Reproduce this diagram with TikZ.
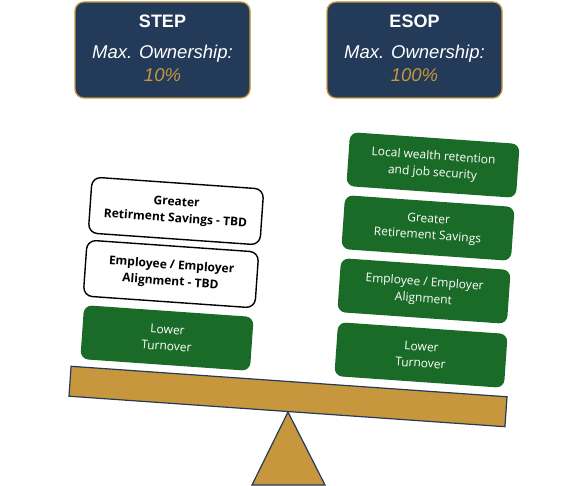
\documentclass[tikz,border=0pt]{standalone}
\usepackage{fontspec}
\setmainfont{Liberation Sans}
\newfontfamily\boxfont{Open Sans}
\definecolor{navy}{RGB}{36,58,89}
\definecolor{gold}{RGB}{198,151,60}
\definecolor{dgreen}{RGB}{26,107,40}
\begin{document}
\begin{tikzpicture}[x=1pt,y=-1pt,
  topbox/.style={draw=gold,line width=1.3pt,fill=navy,rounded corners=9pt,
    minimum width=175pt,minimum height=96pt,inner sep=0pt},
  greenbox/.style={fill=dgreen,rounded corners=8pt,rotate=-4,
    minimum width=170pt,minimum height=54pt,inner sep=0pt,
    text=white,align=center,font=\boxfont\fontsize{12}{16.5}\selectfont},
  whitebox/.style={draw=black,line width=1.4pt,fill=white,rounded corners=9pt,rotate=-4,
    minimum width=172pt,minimum height=56pt,inner sep=0pt,
    text=black,align=center,font=\boxfont\bfseries\fontsize{12}{16.5}\selectfont},
  beamstyle/.style={draw=navy,line width=1.2pt,fill=gold,rotate=-4,
    minimum width=437pt,minimum height=30pt,inner sep=0pt}]
\useasboundingbox (0,0) rectangle (576,486);
% top boxes
\node[topbox] (step) at (162.5,50) {};
\node[topbox] (esop) at (414.5,50) {};
\node[text=white,font=\bfseries\fontsize{18}{20}\selectfont,anchor=base] (steptitle) at (162.5,28) {STEP};
\node[text=white,font=\itshape\fontsize{18.5}{20}\selectfont,anchor=base] (stepmax) at (162.5,59) {Max. Ownership:};
\node[text=gold,font=\itshape\fontsize{18.5}{20}\selectfont,anchor=base] (steppct) at (162.5,82) {10\%};
\node[text=white,font=\bfseries\fontsize{18}{20}\selectfont,anchor=base] (esoptitle) at (414.5,28) {ESOP};
\node[text=white,font=\itshape\fontsize{18.5}{20}\selectfont,anchor=base] (esopmax) at (414.5,59) {Max. Ownership:};
\node[text=gold,font=\itshape\fontsize{18.5}{20}\selectfont,anchor=base] (esoppct) at (414.5,82) {100\%};
% fulcrum
\coordinate (apex) at (288,412);
\coordinate (bl) at (252,485);
\coordinate (br) at (325,485);
\draw[draw=navy,line width=1.2pt,fill=gold,line join=miter] (apex) -- (br) -- (bl) -- cycle;
% beam
\node[beamstyle] (beam) at (288,396.5) {};
% left stack
\node[greenbox] (l1) at (167,338) {Lower\\Turnover};
\node[whitebox] (l2) at (171,274) {Employee / Employer\\Alignment - TBD};
\node[whitebox] (l3) at (176,211) {Greater\\Retirment Savings - TBD};
% right stack
\node[greenbox] (r1) at (421,355) {Lower\\Turnover};
\node[greenbox] (r2) at (424,291) {Employee / Employer\\Alignment};
\node[greenbox] (r3) at (428,228) {Greater\\Retirement Savings};
\node[greenbox] (r4) at (433,165) {Local wealth retention\\and job security};
\end{tikzpicture}
\end{document}
